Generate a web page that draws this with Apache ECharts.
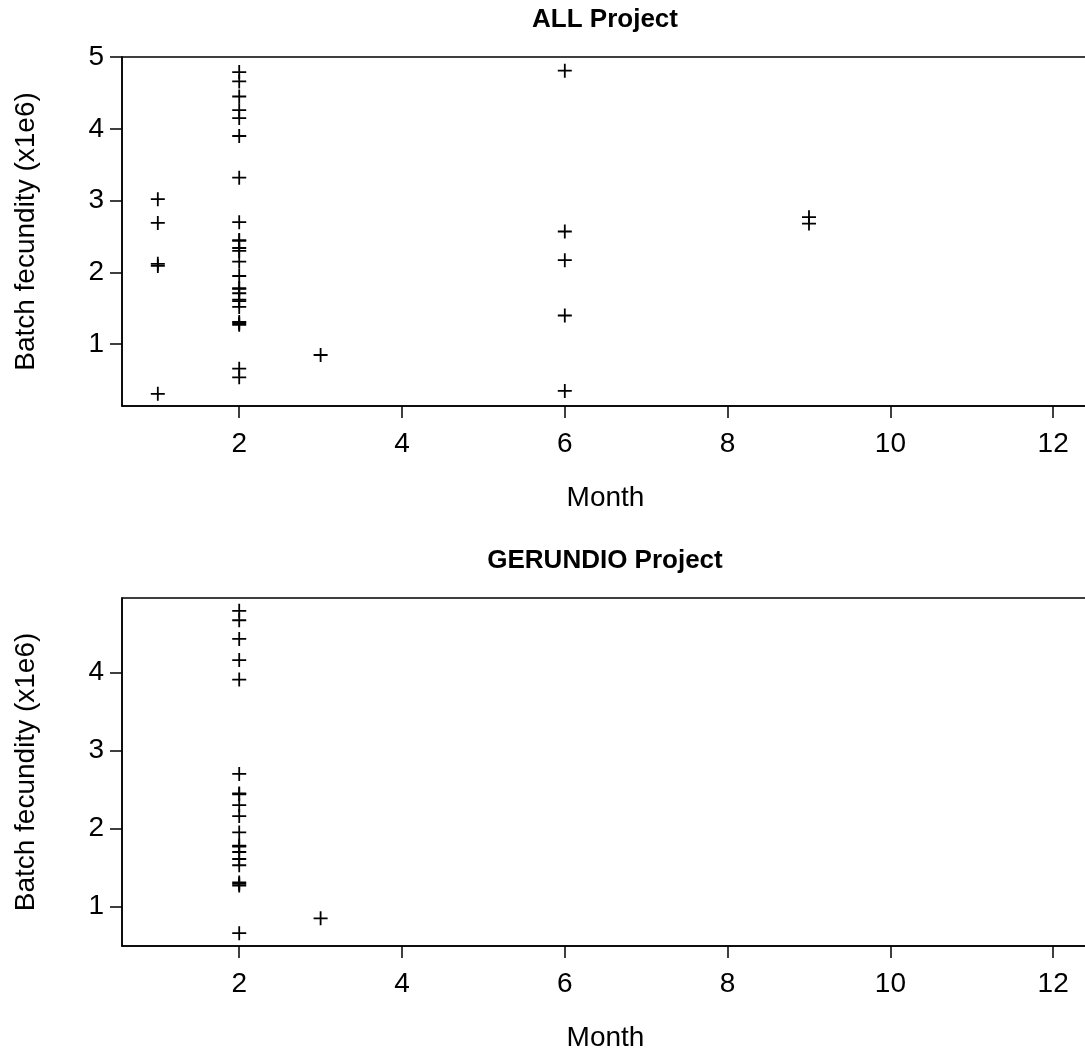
<!DOCTYPE html>
<html>
<head>
<meta charset="utf-8">
<script src="https://cdn.jsdelivr.net/npm/echarts@6/dist/echarts.min.js"></script>
<style>
html,body{margin:0;padding:0;background:#fff;}
#chart{width:1085px;height:1052px;}
</style>
</head>
<body>
<div id="chart"></div>
<script>
// ---- Data (Batch fecundity x1e6 by month) ----
const allMonths = [1,1,1,1,1,
  2,2,2,2,2,2,2,2,2,2,2,2,2,2,2,2,2,2,2,2,2,2,2,2,2,
  3,
  6,6,6,6,6,
  9,9];
const allValues = [3.02,2.69,2.12,2.09,0.31,
  4.79,4.66,4.45,4.26,4.15,3.90,3.32,2.70,2.45,2.44,2.34,2.30,2.15,1.95,1.78,1.77,1.71,1.62,1.60,1.52,1.31,1.29,1.27,0.66,0.54,
  0.85,
  4.81,2.57,2.17,1.40,0.35,
  2.77,2.68];

const gerMonths = [2,2,2,2,2,2,2,2,2,2,2,2,2,2,2,2,2,2,2,2,3];
const gerValues = [4.79,4.67,4.43,4.16,3.91,2.70,2.45,2.44,2.30,2.16,1.95,1.78,1.77,1.70,1.61,1.53,1.31,1.29,1.27,0.66,0.85];

const xTicks = [2,4,6,8,10,12];
const yTicksAll = [1,2,3,4,5];
const yTicksGer = [1,2,3,4];

const titles = ['ALL Project','GERUNDIO Project'];
const xName = 'Month';
const yName = 'Batch fecundity (x1e6)';

// ---- Chart ----
const FONT = 'Liberation Sans, Arial, Helvetica, sans-serif';
const chart = echarts.init(document.getElementById('chart'), null, {renderer:'canvas'});
const plus = 'path://M5,0 L5,10 M0,5 L10,5';

function pairs(xs, ys){ return xs.map((m,i)=>[m, ys[i]]); }

function xAxisDef(idx){
  return {
    type:'value', gridIndex:idx, min:0.56, max:12.44,
    name:xName, nameLocation:'middle', nameGap:78,
    nameTextStyle:{fontSize:28, color:'#000', fontFamily:FONT},
    axisLine:{show:true, onZero:false, lineStyle:{color:'#000', width:1.5}},
    axisTick:{show:true, length:12, customValues:xTicks, lineStyle:{color:'#000', width:1.5}},
    axisLabel:{show:true, customValues:xTicks, margin:24, fontSize:28, color:'#000', fontFamily:FONT},
    splitLine:{show:false}
  };
}
function yAxisDef(idx, min, max, ticks){
  return {
    type:'value', gridIndex:idx, min:min, max:max,
    name:yName, nameLocation:'middle', nameGap:82, nameRotate:90,
    nameTextStyle:{fontSize:28, color:'#000', fontFamily:FONT},
    axisLine:{show:true, onZero:false, lineStyle:{color:'#000', width:1.5}},
    axisTick:{show:true, length:12, customValues:ticks, lineStyle:{color:'#000', width:1.5}},
    axisLabel:{show:true, customValues:ticks, margin:18, fontSize:28, color:'#000', fontFamily:FONT},
    splitLine:{show:false}
  };
}

const option = {
  backgroundColor:'#fff',
  animation:false,
  textStyle:{fontFamily:FONT},
  grid:[
    {left:122, top:57, height:349, width:967, outerBoundsMode:'none', containLabel:false, show:true, borderColor:'#000', borderWidth:1.5, backgroundColor:'transparent'},
    {left:122, top:598, height:348, width:967, outerBoundsMode:'none', containLabel:false, show:true, borderColor:'#000', borderWidth:1.5, backgroundColor:'transparent'}
  ],
  xAxis:[xAxisDef(0), xAxisDef(1)],
  yAxis:[yAxisDef(0, 0.14, 5.0, yTicksAll), yAxisDef(1, 0.495, 4.955, yTicksGer)],
  graphic:[
    {type:'text', x:605, y:20, style:{text:titles[0], fill:'#000', font:'bold 26px '+FONT, textAlign:'center', textVerticalAlign:'middle'}},
    {type:'text', x:605, y:561, style:{text:titles[1], fill:'#000', font:'bold 26px '+FONT, textAlign:'center', textVerticalAlign:'middle'}}
  ],
  series:[
    {type:'scatter', xAxisIndex:0, yAxisIndex:0, data:pairs(allMonths, allValues),
     symbol:plus, symbolSize:14, itemStyle:{color:'transparent', borderColor:'#000', borderWidth:1.8, opacity:1}},
    {type:'scatter', xAxisIndex:1, yAxisIndex:1, data:pairs(gerMonths, gerValues),
     symbol:plus, symbolSize:14, itemStyle:{color:'transparent', borderColor:'#000', borderWidth:1.8, opacity:1}}
  ]
};
chart.setOption(option);
</script>
</body>
</html>
